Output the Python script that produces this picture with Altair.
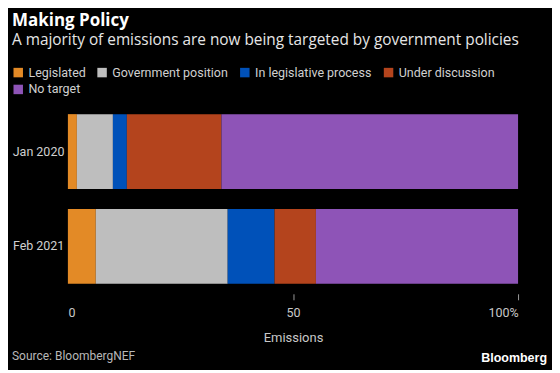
import altair as alt
import pandas as pd

periods = ["Jan 2020", "Feb 2021"]
categories = ["Legislated", "Government position", "In legislative process", "Under discussion", "No target"]
jan_2020 = [2.0, 8.0, 3.1, 21.0, 65.9]
feb_2021 = [6.2, 29.3, 10.4, 9.2, 44.9]
colors = ["#E38A26", "#BEBEBE", "#0051B9", "#B4441D", "#8E54B7"]
x_ticks = [0, 50, 100]

rows = []
for period, vals in zip(periods, [jan_2020, feb_2021]):
    for i, (cat, v) in enumerate(zip(categories, vals)):
        rows.append({"period": period, "category": cat, "value": v, "rank": i})
df = pd.DataFrame(rows)

FONT = "Roboto"

bars = alt.Chart(df).mark_bar(size=75).encode(
    x=alt.X("value:Q", stack="zero",
            scale=alt.Scale(domain=[0, 100], nice=False),
            axis=alt.Axis(values=x_ticks, title="Emissions", grid=False, domain=False,
                          tickColor="#999", tickSize=6, tickWidth=1,
                          tickOpacity=alt.condition("datum.value == 0", alt.value(0), alt.value(1)),
                          labelExpr="datum.value == 100 ? '100%' : datum.label",
                          labelColor="#c8c8c8", labelFont=FONT, labelFontSize=12.5,
                          labelPadding=7, titleColor="#c8c8c8", titleFont=FONT,
                          titleFontSize=13, titleFontWeight="normal", titlePadding=12)),
    y=alt.Y("period:N", sort=periods,
            scale=alt.Scale(paddingInner=0.21, paddingOuter=0.105),
            axis=alt.Axis(title=None, domain=False, ticks=False, labelColor="#d0d0d0",
                          labelFont=FONT, labelFontSize=12.5, labelPadding=4)),
    color=alt.Color("category:N", sort=categories,
                    scale=alt.Scale(domain=categories, range=colors),
                    legend=alt.Legend(title=None, orient="none", legendX=-56, legendY=-38,
                                      direction="horizontal", columns=4,
                                      symbolType="square", symbolSize=90, symbolStrokeWidth=0,
                                      labelColor="#d0d0d0", labelFont=FONT, labelFontSize=12.5,
                                      columnPadding=10, rowPadding=4, symbolOffset=0,
                                      labelOffset=4)),
    order=alt.Order("rank:Q"),
)

source = alt.Chart(pd.DataFrame([{"t": "Source: BloombergNEF"}])).mark_text(
    align="left", baseline="middle", font=FONT, fontSize=12, color="#b8b8b8"
).encode(text="t:N", x=alt.value(-56), y=alt.value(252))

brand = alt.Chart(pd.DataFrame([{"t": "Bloomberg"}])).mark_text(
    align="right", baseline="middle", font="Liberation Sans", fontSize=12.5,
    fontWeight="bold", color="#ffffff"
).encode(text="t:N", x=alt.value(480), y=alt.value(254))

chart = alt.layer(bars, source, brand).properties(
    width=451, height=190,
    background="#000000",
    padding={"left": 4, "top": 3, "right": 5, "bottom": 5},
    title=alt.TitleParams(
        text="Making Policy",
        subtitle="A majority of emissions are now being targeted by government policies",
        anchor="start", frame="bounds", font="Open Sans", fontSize=17, fontWeight="bold",
        color="#ffffff", subtitleFont="Open Sans", subtitleFontSize=15.4, subtitleColor="#e6e6e6",
        subtitlePadding=3, offset=17,
    ),
).configure_view(strokeWidth=0)

chart.save("out.html", embed_options={"renderer": "svg", "actions": False})
